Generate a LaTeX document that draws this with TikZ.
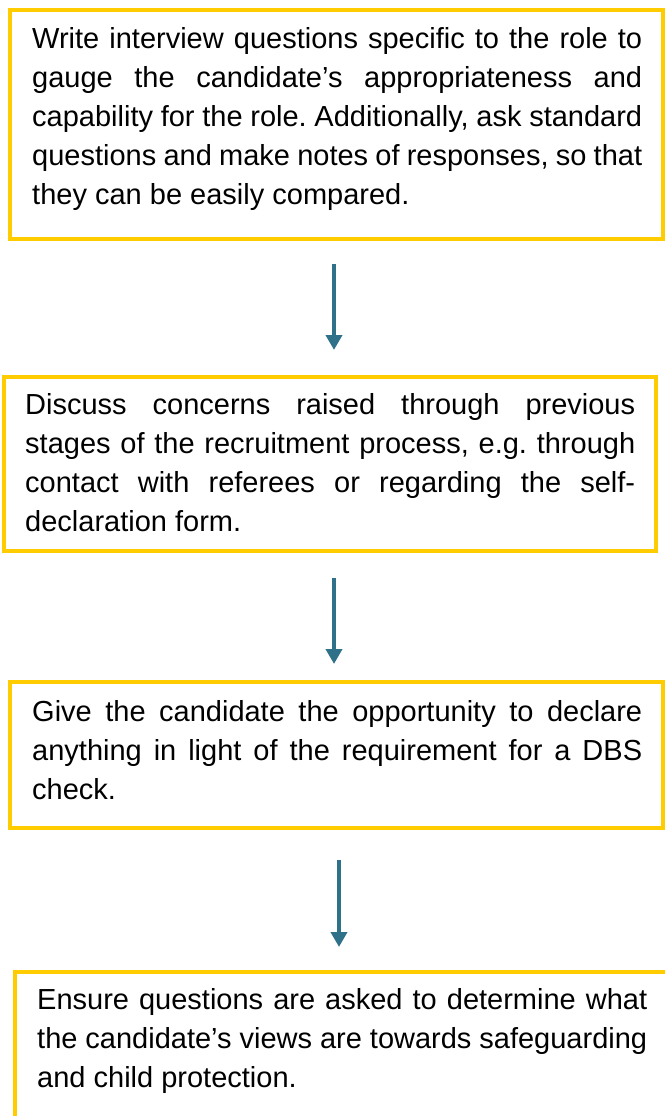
\documentclass[tikz,border=0pt]{standalone}
\usepackage{fontspec}
\setmainfont{Liberation Sans}
\usetikzlibrary{arrows.meta}
\definecolor{boxgold}{HTML}{FFCC00}
\definecolor{flowteal}{HTML}{2F7189}
\frenchspacing
% body text font with a little extra give in the interword space
\newcommand{\bodyfont}{\fontsize{29}{39}\selectfont
  \spaceskip=0.278em plus 0.4em minus 0.12em\relax}
% one fully justified line of 610pt
\newcommand{\jl}[1]{\makebox[610pt][s]{#1}}

\begin{document}
\begin{tikzpicture}[x=1pt,y=-1pt,
  box/.style={draw=boxgold,line width=4pt,rectangle,inner sep=0pt,outer sep=0pt,anchor=north west},
  body/.style={anchor=north west,inner sep=0pt,align=left,font=\bodyfont},
  flow/.style={draw=flowteal,line width=4pt,-{Triangle[width=16pt,length=15pt]}}]
\useasboundingbox (0,0) rectangle (665,1116);
\clip (0,0) rectangle (665,1116);

% boxes
\node[box,minimum width=653pt,minimum height=229pt] (b1) at (10,10) {};
\node[box,minimum width=652pt,minimum height=174pt] (b2) at (4,377) {};
\node[box,minimum width=653pt,minimum height=146pt] (b3) at (10,682) {};
\node[box,minimum width=675pt,minimum height=170pt] (b4) at (15,972) {};

% texts
\node[body] (t1) at (32,20.7) {%
  \jl{\strut Write interview questions specific to the role to}\\
  \jl{gauge the candidate’s appropriateness and}\\
  \jl{capability for the role. Additionally, ask standard}\\
  \jl{questions and make notes of responses, so that}\\
  they can be easily compared.};
\node[body] (t2) at (25,386.7) {%
  \jl{\strut Discuss concerns raised through previous}\\
  \jl{stages of the recruitment process, e.g. through}\\
  \jl{contact with referees or regarding the self-}\\
  declaration form.};
\node[body] (t3) at (32,693.7) {%
  \jl{\strut Give the candidate the opportunity to declare}\\
  \jl{anything in light of the requirement for a DBS}\\
  check.};
\node[body] (t4) at (37,981.7) {%
  \jl{\strut Ensure questions are asked to determine what}\\
  \jl{the candidate’s views are towards safeguarding}\\
  and child protection.};

% connectors
\coordinate (a1s) at (334,264);
\coordinate (a1e) at (334,350);
\coordinate (a2s) at (334,578);
\coordinate (a2e) at (334,664);
\coordinate (a3s) at (339,860);
\coordinate (a3e) at (339,947);
\draw[flow] (a1s) -- (a1e);
\draw[flow] (a2s) -- (a2e);
\draw[flow] (a3s) -- (a3e);
\end{tikzpicture}
\end{document}
